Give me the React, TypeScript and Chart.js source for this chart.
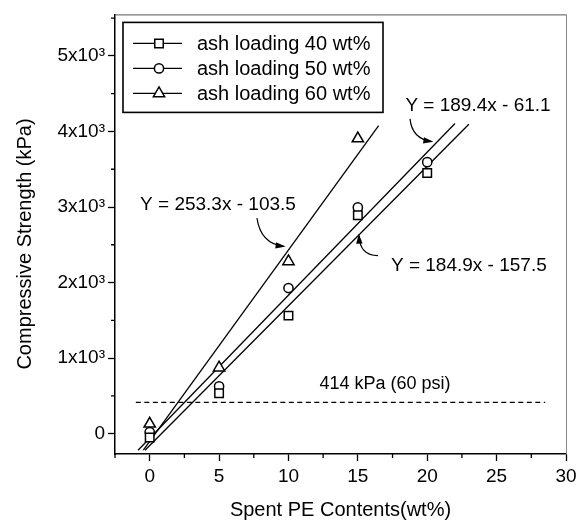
import React, { useEffect, useRef } from 'react';
import { Chart, registerables } from 'chart.js';

Chart.register(...registerables);

// ---------- data ----------
const spentPE = [0, 5, 10, 15, 20];
const ash40 = [-50, 534, 1562, 2890, 3450];
const ash50 = [20, 625, 1927, 2995, 3594];
const ash60 = [130, 872, 2279, 3906];
const seriesLabels = ['ash loading 40 wt%', 'ash loading 50 wt%', 'ash loading 60 wt%'];
const seriesStyles = ['rect', 'circle', 'triangle'];

const fitSlopes = [184.9, 189.4, 253.3];
const fitIntercepts = [-157.5, -61.1, -103.5];
const fitXStart = [-0.34, -0.84, -0.46];
const fitXEnd = [23, 22, 16.5];
const fitLabels = ['Y = 184.9x - 157.5', 'Y = 189.4x - 61.1', 'Y = 253.3x - 103.5'];

const thresholdValue = 414;
const thresholdX = [-1, 28.5];
const thresholdLabel = '414 kPa (60 psi)';

const xTicks = [-2.5, 0, 2.5, 5, 7.5, 10, 12.5, 15, 17.5, 20, 22.5, 25, 27.5, 30];
const yTicks = [0, 500, 1000, 1500, 2000, 2500, 3000, 3500, 4000, 4500, 5000, 5500];

const xTitle = 'Spent PE Contents(wt%)';
const yTitle = 'Compressive Strength (kPa)';

// annotation placement (data units)
const annotations = [
  { text: fitLabels[2], tx: 4.92, ty: 3034, arrow: [[7.73, 2852], [8.0, 2513], [9.65, 2480]] },
  { text: fitLabels[1], tx: 23.66, ty: 4336, arrow: [[18.76, 4167], [18.9, 3906], [20.3, 3867]] },
  { text: fitLabels[0], tx: 23.0, ty: 2227, arrow: [[16.45, 2357], [15.15, 2357], [15.08, 2620]] },
];
const thresholdLabelPos = { x: 16.96, y: 651 };

const FONT = "'Liberation Sans', Arial, Helvetica, sans-serif";

function drawMarker(ctx: CanvasRenderingContext2D, style: string, x: number, y: number, r: number) {
  ctx.beginPath();
  if (style === 'rect') {
    const s = Math.SQRT1_2 * r;
    ctx.rect(x - s, y - s, 2 * s, 2 * s);
  } else if (style === 'circle') {
    ctx.arc(x, y, r, 0, Math.PI * 2);
  } else {
    ctx.moveTo(x, y - r);
    ctx.lineTo(x + 0.866 * r, y + 0.5 * r);
    ctx.lineTo(x - 0.866 * r, y + 0.5 * r);
    ctx.closePath();
  }
  ctx.fill();
  ctx.stroke();
}

const markerRadius: Record<string, number> = { rect: 6, circle: 4.6, triangle: 6.5 };

const decorPlugin = {
  id: 'decor',
  afterDraw(chart: any) {
    const { ctx, chartArea } = chart;
    const xs = chart.scales.x;
    const ys = chart.scales.y;
    ctx.save();

    // top and right frame
    ctx.lineWidth = 1;
    ctx.strokeStyle = '#555';
    ctx.beginPath();
    ctx.moveTo(chartArea.left, chartArea.top + 0.5);
    ctx.lineTo(chartArea.right, chartArea.top + 0.5);
    ctx.stroke();
    ctx.strokeStyle = '#888';
    ctx.beginPath();
    ctx.moveTo(chartArea.right + 0.5, chartArea.top);
    ctx.lineTo(chartArea.right + 0.5, chartArea.bottom);
    ctx.stroke();

    // minor ticks
    ctx.strokeStyle = '#000';
    ctx.lineWidth = 1.3;
    ctx.beginPath();
    xTicks.forEach((v) => {
      if (v % 5 !== 0) {
        const px = xs.getPixelForValue(v);
        ctx.moveTo(px, chartArea.bottom);
        ctx.lineTo(px, chartArea.bottom + 4);
      }
    });
    yTicks.forEach((v) => {
      if (v % 1000 !== 0) {
        const py = ys.getPixelForValue(v);
        ctx.moveTo(chartArea.left, py);
        ctx.lineTo(chartArea.left - 4, py);
      }
    });
    ctx.stroke();

    // y title
    ctx.fillStyle = '#000';
    ctx.font = `20px ${FONT}`;
    ctx.textAlign = 'center';
    ctx.textBaseline = 'middle';
    ctx.save();
    ctx.translate(25, 244);
    ctx.rotate(-Math.PI / 2);
    ctx.fillText(yTitle, 0, 0);
    ctx.restore();

    // threshold label
    ctx.font = `18px ${FONT}`;
    ctx.fillText(thresholdLabel, xs.getPixelForValue(thresholdLabelPos.x), ys.getPixelForValue(thresholdLabelPos.y));

    // equations and arrows
    ctx.font = `19px ${FONT}`;
    annotations.forEach((a) => {
      ctx.fillStyle = '#000';
      ctx.fillText(a.text, xs.getPixelForValue(a.tx), ys.getPixelForValue(a.ty));
      const p = a.arrow.map(([vx, vy]) => [xs.getPixelForValue(vx), ys.getPixelForValue(vy)]);
      ctx.lineWidth = 1.2;
      ctx.strokeStyle = '#000';
      ctx.beginPath();
      ctx.moveTo(p[0][0], p[0][1]);
      ctx.quadraticCurveTo(p[1][0], p[1][1], p[2][0], p[2][1]);
      ctx.stroke();
      const ang = Math.atan2(p[2][1] - p[1][1], p[2][0] - p[1][0]);
      const L = 8, W = 3.2;
      ctx.beginPath();
      ctx.moveTo(p[2][0] + Math.cos(ang) * 2, p[2][1] + Math.sin(ang) * 2);
      ctx.lineTo(p[2][0] - Math.cos(ang) * L - Math.sin(ang) * W, p[2][1] - Math.sin(ang) * L + Math.cos(ang) * W);
      ctx.lineTo(p[2][0] - Math.cos(ang) * L + Math.sin(ang) * W, p[2][1] - Math.sin(ang) * L - Math.cos(ang) * W);
      ctx.closePath();
      ctx.fill();
    });

    // legend
    const bx = chartArea.left + 8;
    const by = chartArea.top + 8;
    const bw = 260;
    const bh = 90;
    ctx.fillStyle = '#fff';
    ctx.fillRect(bx, by, bw, bh);
    ctx.lineWidth = 1.6;
    ctx.strokeStyle = '#000';
    ctx.strokeRect(bx, by, bw, bh);
    ctx.font = `20px ${FONT}`;
    ctx.textAlign = 'left';
    ctx.textBaseline = 'middle';
    seriesLabels.forEach((label, i) => {
      const cy = by + 21 + i * 25;
      ctx.strokeStyle = '#000';
      ctx.lineWidth = 1.2;
      ctx.beginPath();
      ctx.moveTo(bx + 10, cy);
      ctx.lineTo(bx + 59, cy);
      ctx.stroke();
      ctx.fillStyle = '#fff';
      ctx.lineWidth = 1.5;
      drawMarker(ctx, seriesStyles[i], bx + 36, cy, markerRadius[seriesStyles[i]]);
      ctx.fillStyle = '#000';
      ctx.fillText(label, bx + 74, cy + 1);
    });

    ctx.restore();
  },
};

export default function App() {
  const ref = useRef<HTMLCanvasElement | null>(null);
  useEffect(() => {
    if (!ref.current) return;
    const seriesValues = [ash40, ash50, ash60];
    const pointSets = seriesValues.map((vals, i) => ({
      label: seriesLabels[i],
      data: vals.map((v, j) => ({ x: spentPE[j], y: v })),
      showLine: false,
      pointStyle: seriesStyles[i],
      pointRadius: markerRadius[seriesStyles[i]],
      pointBackgroundColor: '#fff',
      pointBorderColor: '#000',
      pointBorderWidth: 1.5,
      order: 0,
    }));
    const fitSets = fitSlopes.map((m, i) => ({
      label: fitLabels[i],
      data: [fitXStart[i], fitXEnd[i]].map((x) => ({ x, y: m * x + fitIntercepts[i] })),
      showLine: true,
      pointRadius: 0,
      borderColor: '#000',
      borderWidth: 1.3,
      order: 1,
    }));
    const thresholdSet = {
      label: thresholdLabel,
      data: thresholdX.map((x) => ({ x, y: thresholdValue })),
      showLine: true,
      pointRadius: 0,
      borderColor: '#000',
      borderWidth: 1.2,
      borderDash: [5, 3.5],
      order: 2,
    };
    const tickFont = { family: FONT, size: 19 };
    const chart = new Chart(ref.current, {
      type: 'scatter',
      data: { datasets: [...pointSets, ...fitSets, thresholdSet] as any },
      options: {
        animation: false,
        responsive: false,
        events: [],
        layout: { padding: { top: 7, right: 15, left: 0, bottom: 0 } },
        plugins: { legend: { display: false }, tooltip: { enabled: false } },
        scales: {
          x: {
            type: 'linear',
            min: -2.5,
            max: 30,
            afterBuildTicks: (s: any) => {
              s.ticks = xTicks.map((v) => ({ value: v }));
            },
            afterFit: (s: any) => {
              s.height = 68;
            },
            ticks: {
              autoSkip: false,
              maxRotation: 0,
              padding: 4,
              color: '#000',
              font: tickFont,
              callback: (v: any) => (Number(v) % 5 === 0 ? String(v) : ''),
            },
            grid: {
              drawOnChartArea: false,
              tickLength: 7,
              tickWidth: 1.3,
              color: (c: any) => (c.tick && c.tick.value % 5 === 0 ? '#000' : 'rgba(0,0,0,0)'),
            },
            border: { color: '#000', width: 1.5 },
            title: { display: true, text: xTitle, color: '#000', font: { family: FONT, size: 20 }, padding: 0 },
          },
          y: {
            type: 'linear',
            min: -270,
            max: 5550,
            afterBuildTicks: (s: any) => {
              s.ticks = yTicks.map((v) => ({ value: v }));
            },
            afterFit: (s: any) => {
              s.width = 115;
            },
            ticks: {
              autoSkip: false,
              padding: 3,
              color: '#000',
              font: tickFont,
              callback: (v: any) => {
                const n = Number(v);
                if (n === 0) return '0';
                if (n % 1000 !== 0) return '';
                return `${n / 1000}x10\u00B3`;
              },
            },
            grid: {
              drawOnChartArea: false,
              tickLength: 7,
              tickWidth: 1.3,
              color: (c: any) => (c.tick && c.tick.value % 1000 === 0 ? '#000' : 'rgba(0,0,0,0)'),
            },
            border: { color: '#000', width: 1.5 },
          },
        },
      } as any,
      plugins: [decorPlugin],
    });
    return () => chart.destroy();
  }, []);
  return (
    <div style={{ position: 'fixed', left: 0, top: 0, width: 581, height: 522, background: '#fff' }}>
      <canvas ref={ref} width={581} height={522} style={{ display: 'block' }} />
    </div>
  );
}
